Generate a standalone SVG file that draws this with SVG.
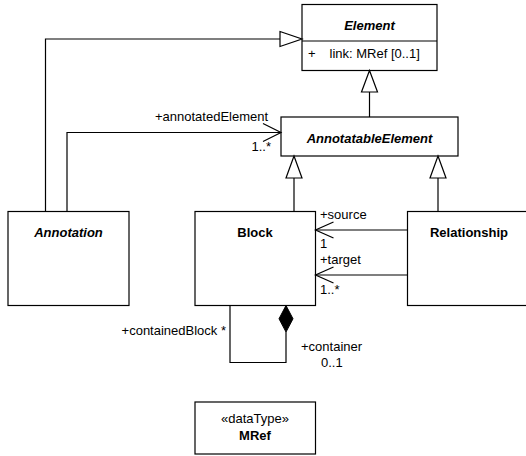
<svg xmlns="http://www.w3.org/2000/svg" width="526" height="456" viewBox="0 0 526 456">
  <style>
    .box { fill: #fff; stroke: #000; stroke-width: 1.2; }
    .ln { fill: none; stroke: #000; stroke-width: 1.2; }
    .gen { fill: #fff; stroke: #000; stroke-width: 1.2; }
    .comp { fill: #000; stroke: #000; stroke-width: 1; }
    text { font-family: "Liberation Sans", Arial, sans-serif; font-size: 13px; fill: #000; }
    .name { font-weight: bold; text-anchor: middle; }
    .abstract { font-style: italic; }
    .mid { text-anchor: middle; }
    .end { text-anchor: end; }
  </style>
  <rect width="526" height="456" fill="#fff"/>

  <!-- classes -->
  <g id="Element">
    <rect class="box" x="302" y="4.5" width="135" height="66"/>
    <line class="ln" x1="302" y1="41" x2="437" y2="41"/>
    <text class="name abstract" x="369.5" y="29.5">Element</text>
    <text x="308" y="58">+</text>
    <text x="329.5" y="58">link: MRef [0..1]</text>
  </g>
  <g id="AnnotatableElement">
    <rect class="box" x="281" y="117" width="177" height="39"/>
    <text class="name abstract" x="369.5" y="142.5">AnnotatableElement</text>
  </g>
  <g id="Annotation">
    <rect class="box" x="8" y="211.5" width="121" height="94"/>
    <text class="name abstract" x="68.5" y="237">Annotation</text>
  </g>
  <g id="Block">
    <rect class="box" x="195" y="211.5" width="120.5" height="94"/>
    <text class="name" x="255" y="237">Block</text>
  </g>
  <g id="Relationship">
    <rect class="box" x="407.5" y="211.5" width="124" height="94"/>
    <text class="name" x="469" y="237">Relationship</text>
  </g>
  <g id="MRef">
    <rect class="box" x="195" y="402" width="120.5" height="52"/>
    <text class="mid" x="255" y="422.5">«dataType»</text>
    <text class="name" x="255" y="440">MRef</text>
  </g>

  <!-- connectors -->
  <g id="connectors">
    <!-- generalizations -->
    <path class="ln" d="M45.5,211.5 V39 H280"/>
    <polygon class="gen" points="280,31.5 302,39 280,46.5"/>
    <path class="ln" d="M369.5,92 V117"/>
    <polygon class="gen" points="369.5,70.5 377.5,92 361.5,92"/>
    <path class="ln" d="M294,178 V211.5"/>
    <polygon class="gen" points="294,156 302,178 286,178"/>
    <path class="ln" d="M438,178 V211.5"/>
    <polygon class="gen" points="438,156 446,178 430,178"/>

    <!-- Annotation -> AnnotatableElement -->
    <path class="ln" d="M67,211.5 V132.5 H281"/>
    <polyline class="ln" points="263,123.5 281,132.5 263,141.5"/>
    <text x="155" y="121">+annotatedElement</text>
    <text class="end" x="271" y="151">1..*</text>

    <!-- Relationship -> Block -->
    <path class="ln" d="M407.5,230 H315.5"/>
    <polyline class="ln" points="333.5,222 315.5,230 333.5,238"/>
    <text x="320" y="218.5">+source</text>
    <text x="320" y="248">1</text>
    <path class="ln" d="M407.5,275 H315.5"/>
    <polyline class="ln" points="333.5,267 315.5,275 333.5,283"/>
    <text x="320" y="264">+target</text>
    <text x="320" y="294">1..*</text>

    <!-- Block containment -->
    <path class="ln" d="M286,332 V362.5 H230 V305.5"/>
    <polygon class="comp" points="286,305.5 293,318.75 286,332 279,318.75"/>
    <text class="end" x="226" y="335">+containedBlock *</text>
    <text x="301" y="351">+container</text>
    <text x="321" y="367">0..1</text>
  </g>
</svg>
